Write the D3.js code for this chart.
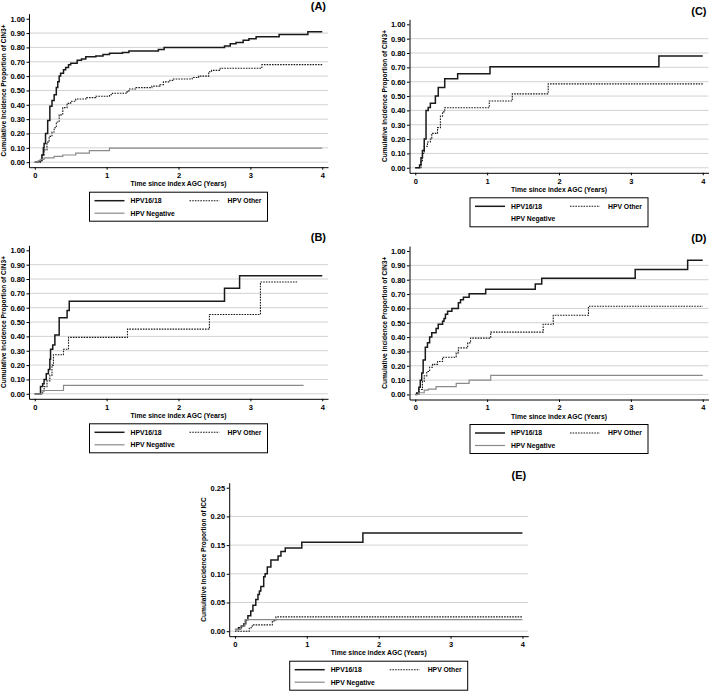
<!DOCTYPE html>
<html lang="en">
<head>
  <meta charset="UTF-8">
  <script src="https://d3js.org/d3.v7.min.js"></script>
  <style>
    body {
      background-color: #fff;
      margin: 0;
      overflow: hidden;
    }

    svg {
      font-family: "Liberation Sans", Arial, sans-serif;
      font-weight: bold;
    }

    .grid line {
      stroke: #d2d2d2;
      stroke-width: 1;
    }

    .axis path, .axis line {
      stroke: #000;
      stroke-width: 1;
    }
  </style>
</head>
<body>

<svg width="709" height="691"></svg>

<script>
  // series labels
  const seriesNames = ['HPV16/18', 'HPV Other', 'HPV Negative'];
  const xTicks = [0, 1, 2, 3, 4];

  // [years, cumulative incidence] -- step points
  // (A)
  const aHpv1618 = [[0,0],[0.05,0.005],[0.08,0.016],[0.1,0.05],[0.12,0.1],[0.13,0.13],[0.15,0.2],[0.18,0.29],[0.21,0.39],[0.24,0.43],[0.27,0.47],[0.3,0.52],[0.32,0.56],[0.34,0.6],[0.36,0.62],[0.4,0.645],[0.43,0.66],[0.47,0.68],[0.5,0.69],[0.59,0.71],[0.65,0.72],[0.71,0.735],[0.85,0.74],[0.95,0.75],[1.04,0.76],[1.22,0.765],[1.31,0.775],[1.72,0.785],[1.8,0.8],[2.64,0.81],[2.72,0.825],[2.8,0.835],[2.9,0.85],[2.98,0.86],[3.08,0.875],[3.4,0.89],[3.8,0.91],[4.0,0.91]];
  const aOther = [[0,0],[0.08,0.01],[0.1,0.05],[0.13,0.086],[0.17,0.14],[0.2,0.18],[0.24,0.21],[0.27,0.24],[0.3,0.28],[0.34,0.33],[0.39,0.38],[0.45,0.41],[0.5,0.425],[0.57,0.44],[0.71,0.45],[0.85,0.46],[1.04,0.47],[1.08,0.48],[1.27,0.49],[1.31,0.51],[1.41,0.52],[1.63,0.53],[1.74,0.54],[1.79,0.56],[1.88,0.57],[1.93,0.58],[2.19,0.59],[2.28,0.6],[2.42,0.63],[2.46,0.64],[2.58,0.655],[3.16,0.68],[4.0,0.68]];
  const aNeg = [[0,0],[0.05,0.01],[0.08,0.02],[0.13,0.03],[0.27,0.04],[0.39,0.05],[0.57,0.063],[0.76,0.08],[1.04,0.098],[4.0,0.098]];

  // (B)
  const bHpv1618 = [[0,0],[0.08,0.05],[0.11,0.07],[0.13,0.1],[0.16,0.14],[0.19,0.17],[0.21,0.24],[0.22,0.31],[0.25,0.34],[0.28,0.41],[0.34,0.53],[0.45,0.58],[0.48,0.645],[2.64,0.735],[2.85,0.823],[4.0,0.823]];
  const bOther = [[0,0],[0.11,0.02],[0.13,0.05],[0.17,0.09],[0.21,0.13],[0.24,0.2],[0.26,0.272],[0.4,0.31],[0.47,0.393],[1.29,0.451],[2.43,0.553],[3.14,0.779],[3.65,0.779]];
  const bNeg = [[0,0],[0.1,0.023],[0.4,0.058],[3.74,0.058]];

  // (C)
  const cHpv1618 = [[0,0],[0.06,0.02],[0.08,0.07],[0.1,0.12],[0.125,0.2],[0.15,0.4],[0.18,0.42],[0.21,0.45],[0.28,0.5],[0.32,0.56],[0.41,0.62],[0.59,0.655],[1.04,0.705],[3.39,0.78],[4.0,0.78]];
  const cOther = [[0,0],[0.08,0.05],[0.1,0.1],[0.125,0.15],[0.17,0.18],[0.21,0.2],[0.23,0.24],[0.31,0.28],[0.35,0.36],[0.38,0.39],[0.41,0.418],[1.03,0.465],[1.35,0.515],[1.85,0.585],[4.0,0.585]];
  const cNeg = [];

  // (D)
  const dHpv1618 = [[0,0],[0.02,0.01],[0.05,0.05],[0.07,0.1],[0.09,0.15],[0.11,0.24],[0.14,0.33],[0.17,0.36],[0.2,0.4],[0.23,0.43],[0.29,0.46],[0.32,0.49],[0.38,0.51],[0.4,0.53],[0.42,0.56],[0.45,0.58],[0.51,0.6],[0.6,0.64],[0.63,0.66],[0.67,0.678],[0.75,0.703],[0.98,0.733],[1.67,0.77],[1.76,0.81],[3.06,0.872],[3.79,0.935],[4.0,0.935]];
  const dOther = [[0,0],[0.05,0.035],[0.1,0.09],[0.125,0.13],[0.16,0.16],[0.2,0.19],[0.24,0.21],[0.31,0.23],[0.38,0.26],[0.57,0.29],[0.6,0.325],[0.73,0.36],[0.77,0.393],[1.05,0.435],[1.78,0.49],[1.92,0.552],[2.41,0.615],[4.0,0.615]];
  const dNeg = [[0,0],[0.05,0.012],[0.125,0.03],[0.18,0.038],[0.29,0.055],[0.57,0.078],[0.75,0.1],[1.05,0.133],[4.0,0.133]];

  // (E)
  const eHpv1618 = [[0,0.003],[0.05,0.006],[0.09,0.009],[0.125,0.013],[0.15,0.02],[0.18,0.027],[0.22,0.035],[0.25,0.045],[0.29,0.055],[0.32,0.064],[0.34,0.07],[0.36,0.078],[0.4,0.095],[0.42,0.1],[0.45,0.112],[0.5,0.124],[0.6,0.131],[0.64,0.139],[0.7,0.145],[0.93,0.155],[1.78,0.171],[4.0,0.171]];
  const eOther = [[0,0],[0.2,0.006],[0.24,0.011],[0.52,0.018],[0.57,0.025],[4.0,0.025]];
  const eNeg = [[0,0.003],[0.08,0.009],[0.14,0.02],[4.0,0.02]];

  const panels = [
    { label: '(A)', left: 29, top: 13.7, yMax: 1, yStep: 0.1, yTitle: 'Cumulative Incidence Proportion of CIN3+', series: [aHpv1618, aOther, aNeg] },
    { label: '(B)', left: 29, top: 245.3, yMax: 1, yStep: 0.1, yTitle: 'Cumulative Incidence Proportion of CIN3+', series: [bHpv1618, bOther, bNeg] },
    { label: '(C)', left: 409.5, top: 19.3, yMax: 1, yStep: 0.1, yTitle: 'Cumulative Incidence Proportion of CIN3+', series: [cHpv1618, cOther, cNeg] },
    { label: '(D)', left: 409.5, top: 246, yMax: 1, yStep: 0.1, yTitle: 'Cumulative Incidence Proportion of CIN3+', series: [dHpv1618, dOther, dNeg] },
    { label: '(E)', left: 229.2, top: 482.7, yMax: 0.25, yStep: 0.05, yTitle: 'Cumulative Incidence Proportion of ICC', series: [eHpv1618, eOther, eNeg] }
  ];

  const W = 299, H = 153.5;
  const styles = [
    { stroke: '#1a1a1a', width: 1.5, dash: null },
    { stroke: '#1a1a1a', width: 1.1, dash: '1.6,1.1' },
    { stroke: '#8a8a8a', width: 1.2, dash: null }
  ];

  const svg = d3.select('svg');

  panels.forEach(p => {
    const g = svg.append('g').attr('transform', `translate(${p.left},${p.top})`);

    const x = d3.scaleLinear().domain([-0.08, 4.08]).range([0, W]);
    const y = d3.scaleLinear().domain([-0.035 * p.yMax, 1.035 * p.yMax]).range([H, 0]);
    const yTicks = d3.range(0, p.yMax + 1e-9, p.yStep);

    // gridlines (none at the top tick)
    g.append('g').attr('class', 'grid')
      .selectAll('line')
      .data(yTicks.filter(v => v < p.yMax - 1e-9))
      .enter().append('line')
      .attr('x1', 0).attr('x2', W)
      .attr('y1', d => y(d)).attr('y2', d => y(d));

    // curves
    const line = d3.line().x(d => x(d[0])).y(d => y(d[1])).curve(d3.curveStepAfter);
    p.series.forEach((s, i) => {
      if (!s.length) return;
      g.append('path')
        .datum(s)
        .attr('d', line)
        .attr('fill', 'none')
        .attr('stroke', styles[i].stroke)
        .attr('stroke-width', styles[i].width)
        .attr('stroke-dasharray', styles[i].dash);
    });

    // axes
    const yAxis = g.append('g').attr('class', 'axis')
      .call(d3.axisLeft(y).tickValues(yTicks).tickSize(2.5).tickSizeOuter(0).tickPadding(1.5).tickFormat(d3.format('.2f')));
    const xAxis = g.append('g').attr('class', 'axis').attr('transform', `translate(0,${H})`)
      .call(d3.axisBottom(x).tickValues(xTicks).tickSize(2.5).tickSizeOuter(0).tickPadding(3).tickFormat(d3.format('d')));
    g.selectAll('.axis text').attr('font-size', 7.5).attr('font-family', null).attr('fill', '#000');

    // titles
    g.append('text')
      .attr('x', W / 2).attr('y', H + 19)
      .attr('text-anchor', 'middle')
      .attr('font-size', 6.8)
      .text('Time since index AGC (Years)');

    g.append('text')
      .attr('transform', `translate(-23,${H / 2}) rotate(-90)`)
      .attr('text-anchor', 'middle')
      .attr('font-size', 6.6)
      .text(p.yTitle);

    g.append('text')
      .attr('x', W - 2).attr('y', -4)
      .attr('text-anchor', 'end')
      .attr('font-size', 11)
      .text(p.label);

    // legend
    const lw = 178, lh = 29;
    const lg = g.append('g').attr('transform', `translate(${(W - lw) / 2},${H + 25})`);
    lg.append('rect')
      .attr('width', lw).attr('height', lh)
      .attr('fill', '#fff').attr('stroke', '#000').attr('stroke-width', 1);

    const items = [
      { x: 5, y: 8.5, i: 0 },
      { x: 100, y: 8.5, i: 1 },
      { x: 5, y: 21, i: 2 }
    ];
    items.forEach(it => {
      const st = styles[it.i];
      if (p.series[it.i].length) {
        lg.append('line')
          .attr('x1', it.x).attr('x2', it.x + 30)
          .attr('y1', it.y).attr('y2', it.y)
          .attr('stroke', st.stroke)
          .attr('stroke-width', st.width)
          .attr('stroke-dasharray', st.dash);
      }
      lg.append('text')
        .attr('x', it.x + (it.i === 1 ? 38 : 36)).attr('y', it.y + 2.4)
        .attr('font-size', 6.8)
        .text(seriesNames[it.i]);
    });
  });
</script>

</body>
</html>
